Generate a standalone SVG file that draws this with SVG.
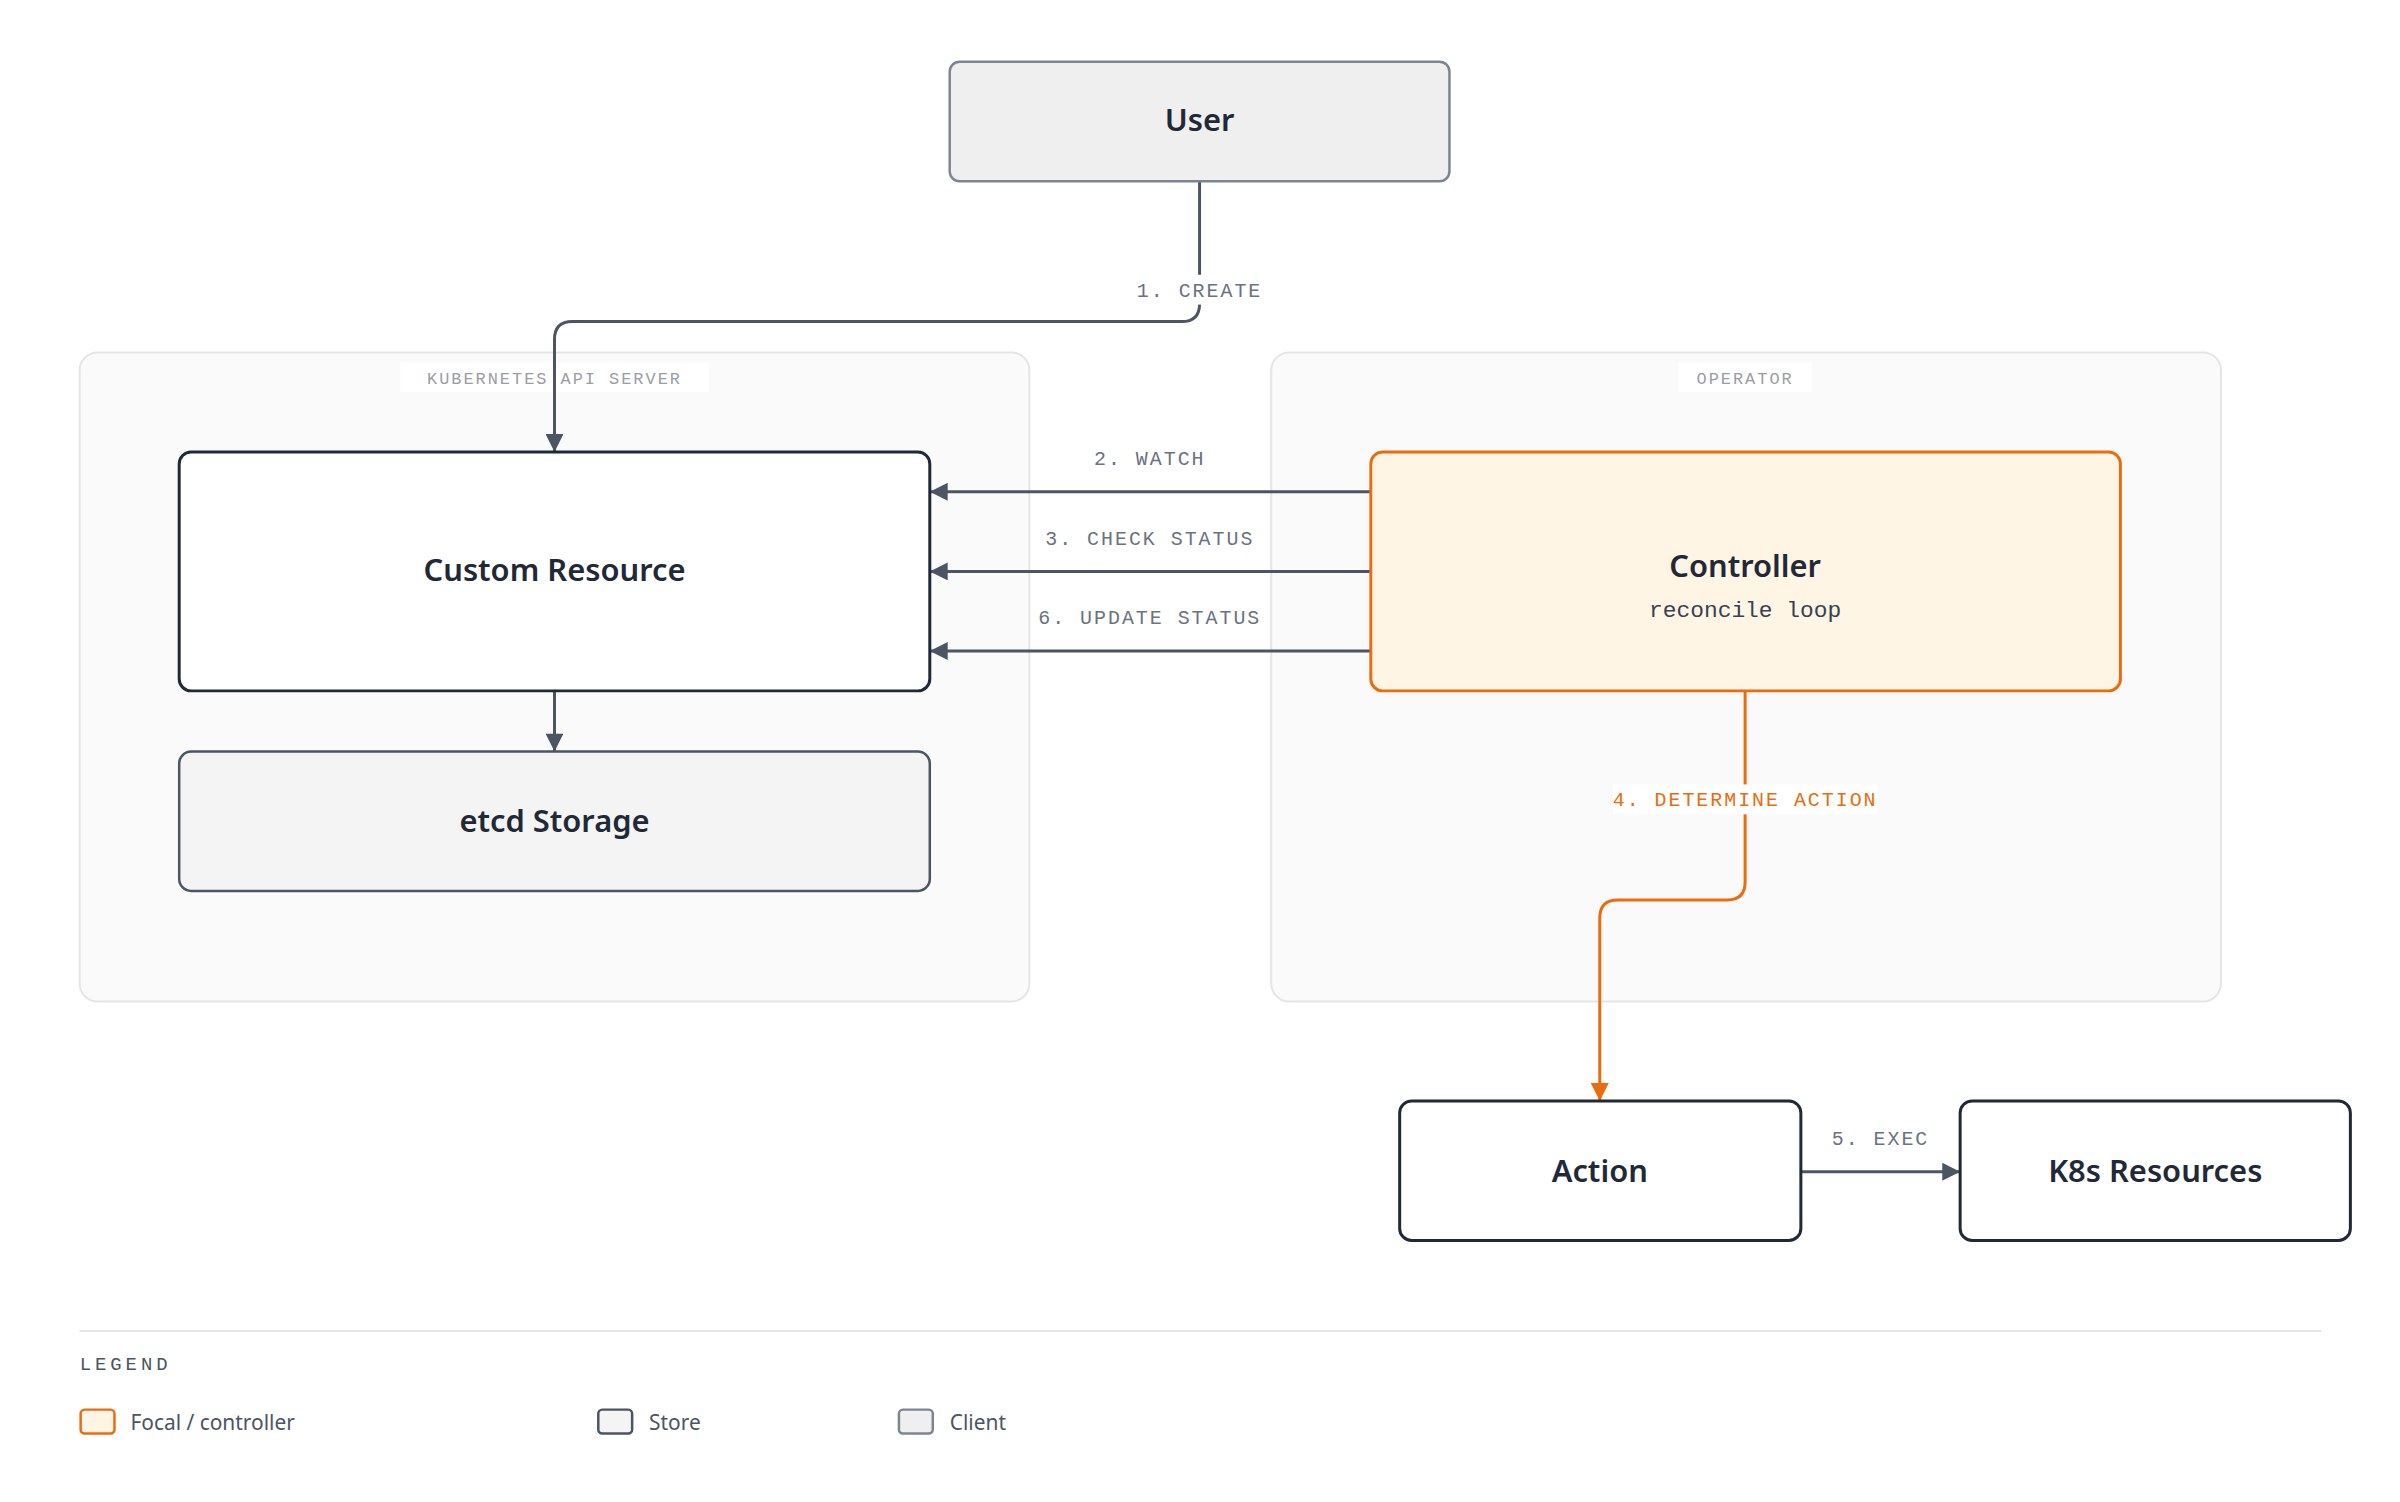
<svg xmlns="http://www.w3.org/2000/svg" width="2400" height="1502" viewBox="0 0 2400 1502">
<defs>
<style>
.grp{fill:#fafafa;stroke:#e5e5e5;stroke-width:2}
.glab{font-family:"Liberation Mono",monospace;font-size:17px;fill:#9a9da3;letter-spacing:2px}
.title{font-family:"Noto Sans",sans-serif;font-weight:600;font-size:31px;fill:#1f2937}
.lab{font-family:"Liberation Mono",monospace;font-size:20px;fill:#6b7280;letter-spacing:2px}
.edge{fill:none;stroke:#4b5563;stroke-width:3}
.leg{font-family:"Noto Sans",sans-serif;font-size:21px;fill:#4b5563}
</style>
<marker id="ah" viewBox="0 0 10 10" refX="10" refY="5" markerWidth="7" markerHeight="6" orient="auto" markerUnits="strokeWidth"><path d="M0,0L10,5L0,10z" fill="#4b5563"/></marker>
<marker id="ao" viewBox="0 0 10 10" refX="10" refY="5" markerWidth="7" markerHeight="6" orient="auto" markerUnits="strokeWidth"><path d="M0,0L10,5L0,10z" fill="#ea6c0f"/></marker>
</defs>
<rect width="2400" height="1502" fill="#ffffff"/>
<g transform="scale(0.9955)">
<g id="group-kas"><rect class="grp" x="80" y="354" width="954" height="652" rx="18"/><rect x="402" y="364" width="310" height="30" fill="#ffffff"/><text class="glab" x="557" y="386" text-anchor="middle">KUBERNETES API SERVER</text></g>
<g id="group-operator"><rect class="grp" x="1277" y="354" width="954" height="652" rx="18"/><rect x="1686" y="364" width="134" height="30" fill="#ffffff"/><text class="glab" x="1753" y="386" text-anchor="middle">OPERATOR</text></g>
<g id="connectors">
<path class="edge" d="M1205,182V305Q1205,323 1187,323H575Q557,323 557,341V454" marker-end="url(#ah)"/>
<rect x="1135" y="276" width="140" height="30" fill="#ffffff"/><text class="lab" x="1205" y="298" text-anchor="middle">1. CREATE</text>
<path class="edge" d="M1377,494H934" marker-end="url(#ah)"/>
<text class="lab" x="1155" y="467" text-anchor="middle">2. WATCH</text>
<path class="edge" d="M1377,574H934" marker-end="url(#ah)"/>
<text class="lab" x="1155" y="547" text-anchor="middle">3. CHECK STATUS</text>
<path class="edge" d="M1377,654H934" marker-end="url(#ah)"/>
<text class="lab" x="1155" y="627" text-anchor="middle">6. UPDATE STATUS</text>
<path class="edge" d="M557,694V755" marker-end="url(#ah)"/>
<path fill="none" stroke="#ea6c0f" stroke-width="3" d="M1753,694V886Q1753,904 1735,904H1625Q1607,904 1607,922V1106" marker-end="url(#ao)"/>
<rect x="1620" y="788" width="266" height="30" fill="#ffffff"/><text class="lab" x="1753" y="810" text-anchor="middle" style="fill:#ea6c0f">4. DETERMINE ACTION</text>
<path class="edge" d="M1809,1177H1969" marker-end="url(#ah)"/>
<text class="lab" x="1889" y="1150" text-anchor="middle">5. EXEC</text>
</g>
<g id="node-user"><rect x="954" y="62" width="502" height="120" rx="10" fill="#efefef" stroke="#7b8593" stroke-width="2.5"/><text class="title" x="1205" y="132" text-anchor="middle">User</text></g>
<g id="node-cr"><rect x="180" y="454" width="754" height="240" rx="12" fill="#ffffff" stroke="#1f2937" stroke-width="3"/><text class="title" x="557" y="584" text-anchor="middle">Custom Resource</text></g>
<g id="node-etcd"><rect x="180" y="755" width="754" height="140" rx="12" fill="#f4f4f4" stroke="#4b5563" stroke-width="2.5"/><text class="title" x="557" y="836" text-anchor="middle">etcd Storage</text></g>
<g id="node-controller"><rect x="1377" y="454" width="753" height="240" rx="12" fill="#fff5e5" stroke="#ea6c0f" stroke-width="3"/><text class="title" x="1753" y="580" text-anchor="middle">Controller</text><text x="1753" y="620" text-anchor="middle" font-family="Liberation Mono, monospace" font-size="23" fill="#374151">reconcile loop</text></g>
<g id="node-action"><rect x="1406" y="1106" width="403" height="140" rx="12" fill="#ffffff" stroke="#1f2937" stroke-width="3"/><text class="title" x="1607" y="1187" text-anchor="middle">Action</text></g>
<g id="node-k8s"><rect x="1969" y="1106" width="392" height="140" rx="12" fill="#ffffff" stroke="#1f2937" stroke-width="3"/><text class="title" x="2165" y="1187" text-anchor="middle">K8s Resources</text></g>
<g id="legend">
<line x1="80" y1="1337" x2="2332" y2="1337" stroke="#e5e5e5" stroke-width="2"/>
<text x="80" y="1376" font-family="Liberation Mono, monospace" font-size="19" fill="#4b5563" letter-spacing="4">LEGEND</text>
<rect x="81" y="1416" width="34" height="24" rx="4" fill="#fff5e5" stroke="#ea6c0f" stroke-width="2.5"/><text class="leg" x="131" y="1436">Focal / controller</text>
<rect x="601" y="1416" width="34" height="24" rx="4" fill="#f4f4f4" stroke="#4b5563" stroke-width="2.5"/><text class="leg" x="652" y="1436">Store</text>
<rect x="903" y="1416" width="34" height="24" rx="4" fill="#efefef" stroke="#7b8593" stroke-width="2.5"/><text class="leg" x="954" y="1436">Client</text>
</g>
</g>
</svg>
